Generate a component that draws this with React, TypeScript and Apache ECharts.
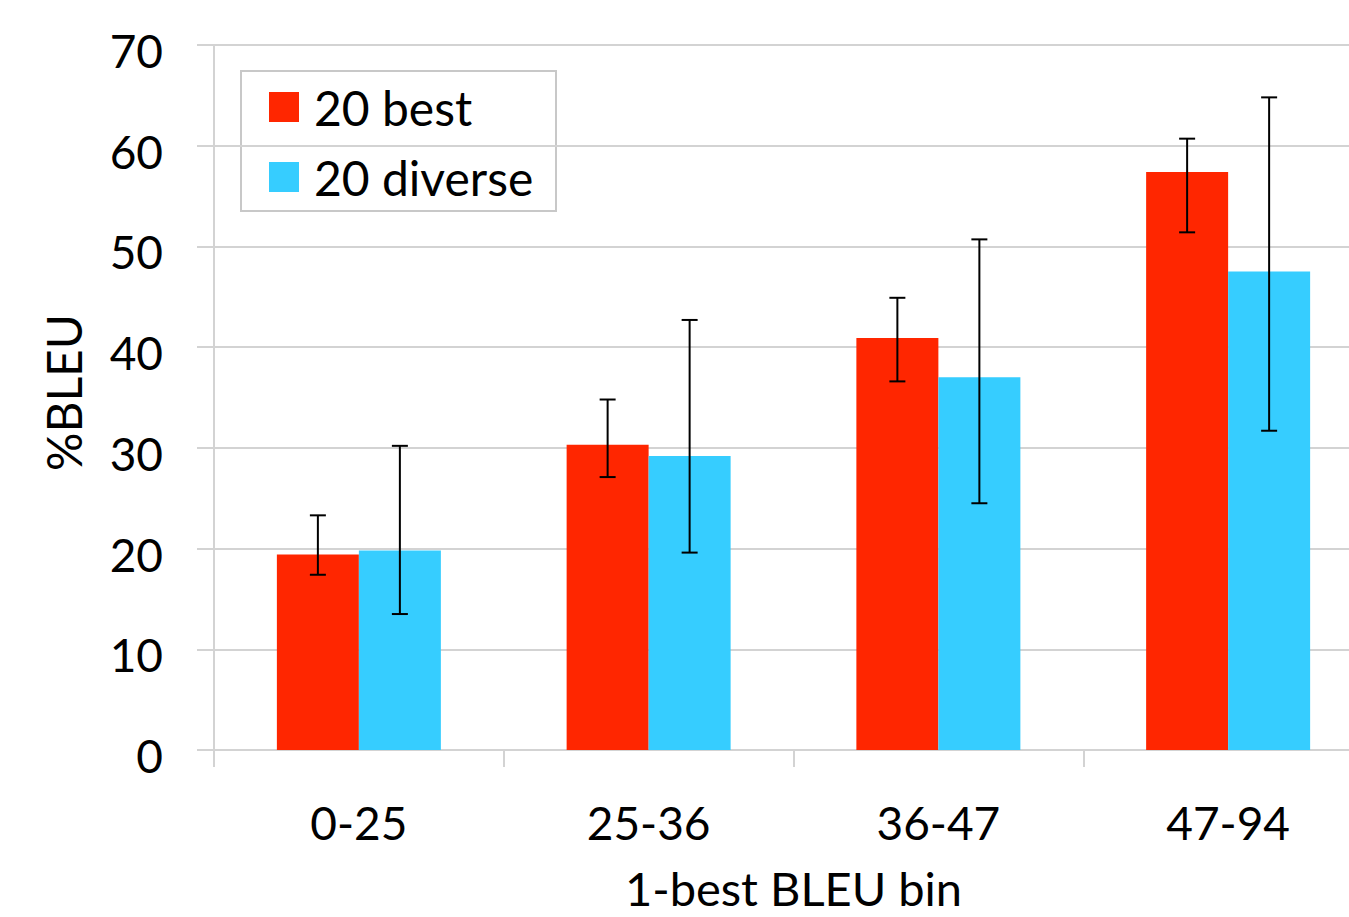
import React, { useEffect, useRef } from "react";
import * as echarts from "echarts";

const categories = ["0-25", "25-36", "36-47", "47-94"];
const seriesNames = ["20 best", "20 diverse"];
const bestValues = [19.4, 30.3, 40.9, 57.4];
const diverseValues = [19.8, 29.2, 37.0, 47.5];
const bestLow = [17.4, 27.1, 36.6, 51.4];
const bestHigh = [23.3, 34.8, 44.9, 60.7];
const diverseLow = [13.5, 19.6, 24.5, 31.7];
const diverseHigh = [30.2, 42.7, 50.7, 64.8];
const yTicks = { min: 0, max: 70, interval: 10 };

const RED = "#ff2600";
const BLUE = "#36cdff";
const GRID = "#d3d3d3";
const FONT = "Lato";
const BAR_W = 82;

function errorSeries(low: number[], high: number[], offset: number) {
  return {
    type: "custom",
    silent: true,
    z: 10,
    encode: { x: 0, y: [1, 2] },
    data: categories.map((_, i) => [i, low[i], high[i]]),
    renderItem: (_params: any, api: any) => {
      const idx = api.value(0);
      const lo = api.coord([idx, api.value(1)]);
      const hi = api.coord([idx, api.value(2)]);
      const x = lo[0] + offset;
      const half = 8;
      const style = { stroke: "#000", lineWidth: 2 };
      return {
        type: "group",
        children: [
          { type: "line", shape: { x1: x, y1: hi[1], x2: x, y2: lo[1] }, style },
          { type: "line", shape: { x1: x - half, y1: hi[1], x2: x + half, y2: hi[1] }, style },
          { type: "line", shape: { x1: x - half, y1: lo[1], x2: x + half, y2: lo[1] }, style },
        ],
      };
    },
  };
}

export default function App() {
  const ref = useRef<HTMLDivElement>(null);
  useEffect(() => {
    if (!ref.current) return;
    const chart = echarts.init(ref.current, null, { renderer: "svg" });
    chart.setOption({
      animation: false,
      textStyle: { fontFamily: FONT },
      grid: { left: 214, right: 0, top: 45, bottom: 167, containLabel: false },
      legend: {
        data: seriesNames,
        orient: "vertical",
        left: 269,
        top: 83,
        itemWidth: 30,
        itemHeight: 30,
        itemGap: 22,
        icon: "rect",
        padding: 0,
        textStyle: { fontSize: 48, color: "#000", fontFamily: FONT, padding: [0, 0, 0, 10] },
      },
      graphic: [
        {
          type: "rect",
          shape: { x: 241, y: 71, width: 315, height: 140 },
          style: { fill: "transparent", stroke: "#c8c8c8", lineWidth: 2 },
          z: -1,
        },
      ],
      xAxis: {
        type: "category",
        data: categories,
        name: "1-best BLEU bin",
        nameLocation: "middle",
        nameGap: 114,
        nameTextStyle: { fontSize: 47, color: "#000", fontFamily: FONT },
        axisLine: { show: true, lineStyle: { color: GRID, width: 2 } },
        axisTick: { show: true, length: 17, lineStyle: { color: GRID, width: 2 } },
        axisLabel: { fontSize: 46, color: "#000", margin: 49, fontFamily: FONT },
      },
      yAxis: {
        type: "value",
        min: yTicks.min,
        max: yTicks.max,
        interval: yTicks.interval,
        name: "%BLEU",
        nameLocation: "middle",
        nameGap: 127,
        nameTextStyle: { fontSize: 48, color: "#000", fontFamily: FONT, padding: [0, 0, 0, 10] },
        axisLine: { show: true, lineStyle: { color: GRID, width: 2 } },
        axisTick: { show: true, length: 17, lineStyle: { color: GRID, width: 2 } },
        axisLabel: {
          color: "#000",
          margin: 51,
          fontFamily: FONT,
          formatter: "{v|{value}}",
          rich: { v: { fontSize: 46, color: "#000", fontFamily: FONT, padding: [11, 0, 0, 0] } },
        },
        splitLine: { show: true, lineStyle: { color: GRID, width: 2 } },
      },
      series: [
        {
          name: seriesNames[0],
          type: "bar",
          data: bestValues,
          barWidth: BAR_W,
          barGap: "0%",
          itemStyle: { color: RED },
        },
        {
          name: seriesNames[1],
          type: "bar",
          data: diverseValues,
          barWidth: BAR_W,
          barGap: "0%",
          itemStyle: { color: BLUE },
        },
        errorSeries(bestLow, bestHigh, -BAR_W / 2),
        errorSeries(diverseLow, diverseHigh, BAR_W / 2),
      ],
    });
    return () => chart.dispose();
  }, []);
  return (
    <div style={{ position: "absolute", left: 0, top: 0, width: 1349, height: 917, overflow: "hidden", background: "#fff" }}>
      <div ref={ref} style={{ position: "absolute", left: 0, top: 0, width: 1373, height: 917 }} />
    </div>
  );
}
